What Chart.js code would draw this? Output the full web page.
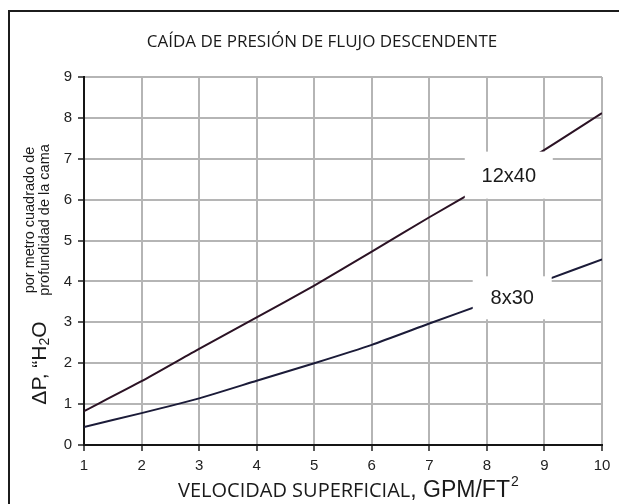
<!DOCTYPE html>
<html>
<head>
<meta charset="utf-8">
<script src="https://cdn.jsdelivr.net/npm/chart.js@4.4.1/dist/chart.umd.min.js"></script>
<style>
  html, body { margin: 0; padding: 0; background: #fff; }
  #wrap { width: 619px; height: 504px; }
</style>
</head>
<body>
<div id="wrap"><canvas id="chart"></canvas></div>
<script>
// datos
const velocity = [1, 2, 3, 4, 5, 6, 7, 8, 9, 10];
const drop12x40 = [0.83, 1.56, 2.35, 3.12, 3.9, 4.73, 5.57, 6.38, 7.22, 8.12];
const drop8x30 = [0.44, 0.78, 1.14, 1.57, 2.0, 2.45, 2.97, 3.48, 4.02, 4.54];
const xTicks = [1, 2, 3, 4, 5, 6, 7, 8, 9, 10];
const yTicks = [0, 1, 2, 3, 4, 5, 6, 7, 8, 9];

const titleText = 'CAÍDA DE PRESIÓN DE FLUJO DESCENDENTE';
const xTitle = 'VELOCIDAD SUPERFICIAL';

// etiquetas de las curvas (caja blanca encima)
const curveLabels = [
  { text: '12x40', x: 8.38, y: 6.6, w: 88, h: 47 },
  { text: '8x30', x: 8.44, y: 3.6, w: 79, h: 43 }
];

const decoPlugin = {
  id: 'deco',
  beforeDraw(chart) {
    const ctx = chart.ctx;
    ctx.save();
    ctx.fillStyle = '#fff';
    ctx.fillRect(0, 0, chart.width, chart.height);
    // marco
    ctx.strokeStyle = '#1c1c1c';
    ctx.lineWidth = 2;
    ctx.beginPath();
    ctx.moveTo(9, chart.height);
    ctx.lineTo(9, 11);
    ctx.lineTo(chart.width, 11);
    ctx.stroke();
    ctx.restore();
  },
  afterDatasetsDraw(chart) {
    const ctx = chart.ctx;
    const xs = chart.scales.x, ys = chart.scales.y;
    ctx.save();
    curveLabels.forEach(l => {
      const px = xs.getPixelForValue(l.x), py = ys.getPixelForValue(l.y);
      ctx.fillStyle = '#fff';
      ctx.fillRect(px - l.w / 2, py - l.h / 2, l.w, l.h);
      ctx.fillStyle = '#1a1a1a';
      ctx.font = '20px "Liberation Sans", Arial, sans-serif';
      ctx.textAlign = 'center';
      ctx.textBaseline = 'middle';
      ctx.fillText(l.text, px, py + 1);
    });
    ctx.restore();
  },
  afterDraw(chart) {
    const ctx = chart.ctx;
    ctx.save();
    ctx.fillStyle = '#1a1a1a';
    // titulo
    ctx.font = '17px "Open Sans", sans-serif';
    ctx.textAlign = 'center';
    ctx.textBaseline = 'middle';
    ctx.fillText(titleText, 322, 42);

    // titulo eje x
    ctx.textAlign = 'left';
    ctx.textBaseline = 'alphabetic';
    let x = 178;
    ctx.font = '20px "Open Sans", sans-serif';
    ctx.fillText(xTitle, x, 497);
    x += ctx.measureText(xTitle).width;
    ctx.font = '23px "Liberation Sans", Arial, sans-serif';
    ctx.fillText(', GPM/FT', x, 497);
    x += ctx.measureText(', GPM/FT').width + 1;
    ctx.font = '14px "Liberation Sans", Arial, sans-serif';
    ctx.fillText('2', x, 486);

    // titulo eje y (rotado)
    ctx.save();
    ctx.translate(40, 363);
    ctx.rotate(-Math.PI / 2);
    ctx.textBaseline = 'middle';
    const big = '21px "Liberation Sans", Arial, sans-serif';
    const sub = '14px "Liberation Sans", Arial, sans-serif';
    const parts = [['ΔP, “H', big, 0], ['2', sub, 5], ['O', big, 0]];
    let total = 0;
    parts.forEach(p => { ctx.font = p[1]; total += ctx.measureText(p[0]).width; });
    let cx = -total / 2;
    parts.forEach(p => {
      ctx.font = p[1];
      ctx.fillText(p[0], cx, p[2]);
      cx += ctx.measureText(p[0]).width;
    });
    ctx.restore();

    ctx.save();
    ctx.translate(30, 220);
    ctx.rotate(-Math.PI / 2);
    ctx.textAlign = 'center';
    ctx.textBaseline = 'middle';
    ctx.font = '14.5px "Liberation Sans", Arial, sans-serif';
    ctx.fillText('por metro cuadrado de', 0, 0);
    ctx.fillText('profundidad de la cama', 0, 15);
    ctx.restore();

    ctx.restore();
  }
};

const tickFont = { family: '"Liberation Sans", Arial, sans-serif', size: 15 };

new Chart(document.getElementById('chart'), {
  type: 'line',
  data: {
    labels: velocity,
    datasets: [
      {
        label: '12x40',
        data: velocity.map((v, i) => ({ x: v, y: drop12x40[i] })),
        borderColor: '#2b1224',
        borderWidth: 2,
        pointRadius: 0,
        tension: 0.2
      },
      {
        label: '8x30',
        data: velocity.map((v, i) => ({ x: v, y: drop8x30[i] })),
        borderColor: '#1b1b38',
        borderWidth: 2,
        pointRadius: 0,
        tension: 0.2
      }
    ]
  },
  options: {
    responsive: true,
    maintainAspectRatio: false,
    animation: false,
    layout: { padding: { left: 0, top: 77, right: 17, bottom: 0 } },
    plugins: {
      legend: { display: false },
      tooltip: { enabled: false }
    },
    scales: {
      x: {
        type: 'linear',
        min: 1,
        max: 10,
        afterBuildTicks: s => { s.ticks = xTicks.map(v => ({ value: v })); },
        afterFit: s => { s.height = 59; },
        ticks: { font: tickFont, color: '#222', padding: 6, maxRotation: 0 },
        grid: { color: '#b5b5b5', lineWidth: 2, tickColor: '#222', tickLength: 6, tickWidth: 1.5 },
        border: { color: '#151515', width: 2 }
      },
      y: {
        min: 0,
        max: 9,
        afterBuildTicks: s => { s.ticks = yTicks.map(v => ({ value: v })); },
        afterFit: s => { s.width = 84; },
        ticks: { font: tickFont, color: '#222', padding: 6 },
        grid: { color: '#b5b5b5', lineWidth: 2, tickColor: '#222', tickLength: 6, tickWidth: 1.5 },
        border: { color: '#151515', width: 2 }
      }
    }
  },
  plugins: [decoPlugin]
});
</script>
</body>
</html>
